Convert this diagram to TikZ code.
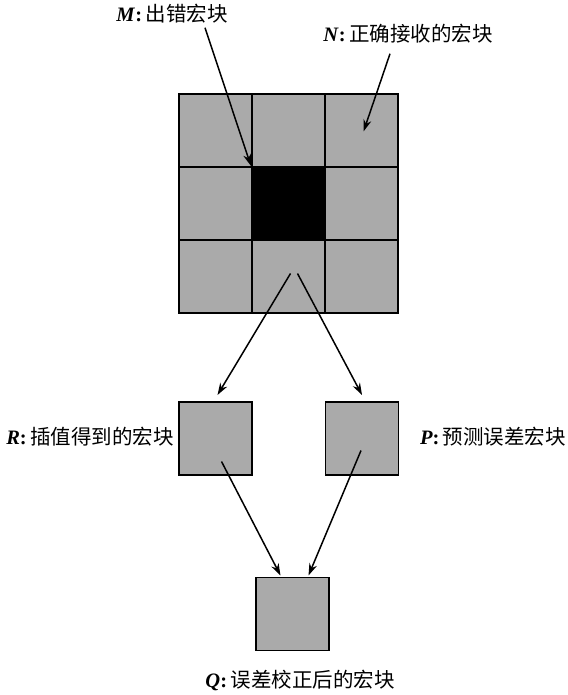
\documentclass[tikz,border=0pt]{standalone}
\usepackage{fontspec}
\setmainfont{Liberation Serif}
\newfontfamily\cjk{Noto Sans CJK SC}
\usetikzlibrary{arrows.meta,calc}
\definecolor{blockgray}{HTML}{AAAAAA}
\tikzset{
  cell/.style={draw=black,line width=1.3pt,fill=blockgray,minimum width=73pt,minimum height=73pt,inner sep=0pt,outer sep=0pt},
  lbl/.style={font=\fontsize{20.5}{24}\selectfont,inner sep=0pt},
  arr/.style={line width=1.5pt,-{Stealth[length=12pt,width=8pt]}}
}
\newcommand{\tlab}[2]{\textbf{\textit{#1}}\textbf{:}\,{\cjk #2}}
\begin{document}
\begin{tikzpicture}[x=1pt,y=-1pt]
\useasboundingbox (0,0) rectangle (567,695);
% 3x3 grid
\node[cell] (c11) at (215.5,130.5) {};
\node[cell] (c12) at (288.5,130.5) {};
\node[cell] (c13) at (361.5,130.5) {};
\node[cell] (c21) at (215.5,203.5) {};
\node[cell,fill=black] (c22) at (288.5,203.5) {};
\node[cell] (c23) at (361.5,203.5) {};
\node[cell] (c31) at (215.5,276.5) {};
\node[cell] (c32) at (288.5,276.5) {};
\node[cell] (c33) at (361.5,276.5) {};
\draw[line width=1.3pt] (c11.north west) rectangle (c33.south east);
% lower blocks
\node[cell] (R) at (215.5,438.5) {};
\node[cell] (P) at (362,438.5) {};
\node[cell] (Q) at (292.5,614) {};
% labels
\node[lbl] (Mlab) at (172,14) {\tlab{M}{出错宏块}};
\node[lbl] (Nlab) at (408,34) {\tlab{N}{正确接收的宏块}};
\node[lbl] (Rlab) at (90,437) {\tlab{R}{插值得到的宏块}};
\node[lbl] (Plab) at (493,437) {\tlab{P}{预测误差宏块}};
\node[lbl] (Qlab) at (300,680) {\tlab{Q}{误差校正后的宏块}};
% arrows
\draw[arr] ($(Mlab.south)+(33,4)$) -- ($(c22.north west)+(-1,-1)$);
\draw[arr] ($(Nlab.south)+(-18,10)$) -- ($(c13.center)+(2,1)$);
\draw[arr] ($(c32.center)+(2,-3)$) -- ($(R.north)+(2,-7)$);
\draw[arr] ($(c32.center)+(9,-3)$) -- ($(P.north)+(0,-7)$);
\draw[arr] ($(R.center)+(6,23)$) -- ($(Q.north)+(-12,-2)$);
\draw[arr] ($(P.center)+(-1,12)$) -- ($(Q.north)+(16,-2)$);
\end{tikzpicture}
\end{document}
